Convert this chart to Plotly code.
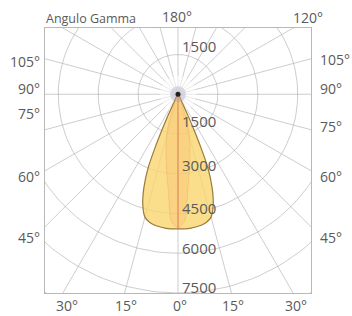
import numpy as np
import plotly.graph_objects as go

# ---- data ----
ring_values = [1500, 3000, 4500, 6000, 7500, 9000]
ring_labels = ["1500", "1500", "3000", "4500", "6000", "7500"]
grid_angles = list(range(0, 360, 15))
# outer (yellow) intensity curve, cd vs gamma angle (deg)
lobe_angles = [0, 5, 10, 12.5, 15, 17.5, 20, 22, 23, 24, 25, 26, 27]
lobe_values = [5080, 5080, 5020, 4950, 4800, 4400, 3750, 3000, 2330, 1580, 900, 380, 0]
# inner (orange) curve
inner_angles = [0, 3, 6, 9, 12, 15, 18, 20, 21]
inner_values = [5030, 4800, 3560, 2800, 2180, 1650, 1130, 560, 0]
left_labels = ["105°", "90°", "75°", "60°", "45°"]
right_labels = ["105°", "90°", "75°", "60°", "45°"]
bottom_labels = ["30°", "15°", "0°", "15°", "30°"]
top_labels = ["Angulo Gamma", "180°", "120°"]

W, H = 352, 316
L, R, T, B = 45, 311, 28, 293

def pol(r, a_deg):
    a = np.radians(np.asarray(a_deg, dtype=float))
    r = np.asarray(r, dtype=float)
    return r * np.sin(a), -r * np.cos(a)

def mirror(angles, values):
    a = [-x for x in angles[::-1]] + angles[1:]
    v = values[::-1] + values[1:]
    return a, v

fig = go.Figure()

grid_col = "rgba(175,175,175,0.62)"
# grid rings
th = np.arange(0, 361, 2)
for rv in ring_values:
    x, y = pol(np.full(th.shape, rv), th)
    fig.add_trace(go.Scatter(x=x, y=y, mode="lines",
                             line=dict(color=grid_col, width=1), hoverinfo="skip"))
# radial lines
for ga in grid_angles:
    x, y = pol([0, 12000], [ga, ga])
    fig.add_trace(go.Scatter(x=x, y=y, mode="lines",
                             line=dict(color=grid_col, width=1), hoverinfo="skip"))

# centre haze
fig.add_trace(go.Scatter(x=[0], y=[0], mode="markers",
                         marker=dict(color="rgba(255,255,255,0.55)", size=36), hoverinfo="skip"))

# lobes
a, v = mirror(lobe_angles, lobe_values)
x, y = pol(v, a)
fig.add_trace(go.Scatter(x=x, y=y, mode="lines", fill="toself",
                         fillcolor="rgba(250,214,110,0.8)",
                         line=dict(color="#9a7a3a", width=1.2, shape="spline", smoothing=0.6),
                         hoverinfo="skip"))
a, v = mirror(inner_angles, inner_values)
x, y = pol(v, a)
fig.add_trace(go.Scatter(x=x, y=y, mode="lines", fill="toself",
                         fillcolor="rgba(242,175,105,0.25)",
                         line=dict(color="rgba(230,150,90,0.35)", width=0.8, shape="spline", smoothing=0.6),
                         hoverinfo="skip"))
x, y = pol([0, lobe_values[0]], [0, 0])
fig.add_trace(go.Scatter(x=x, y=y, mode="lines",
                         line=dict(color="rgba(220,110,80,0.8)", width=1), hoverinfo="skip"))

# centre
fig.add_trace(go.Scatter(x=[0], y=[0], mode="markers",
                         marker=dict(color="rgba(160,150,190,0.3)", size=16), hoverinfo="skip"))
fig.add_trace(go.Scatter(x=[0], y=[0], mode="markers",
                         marker=dict(color="#222", size=5), hoverinfo="skip"))

def px2paper(px, py):
    return (px - L) / (R - L), (B - py) / (B - T)

ann = []
font = dict(family="Open Sans", size=14, color="#5a5a5a")
def add(text, px, py, xanchor="center", size=None):
    xp, yp = px2paper(px, py)
    f = dict(font)
    if size:
        f["size"] = size
    ann.append(dict(text=text, x=xp, y=yp, xref="paper", yref="paper",
                    xanchor=xanchor, yanchor="middle", showarrow=False, font=f))

for t, py in zip(left_labels, [62, 89, 113, 176, 237]):
    add(t, 42, py, "right")
for t, py in zip(right_labels, [60, 89, 126, 176, 237]):
    add(t, 318, py, "left")
for t, px in zip(bottom_labels, [67, 126, 180, 233, 296]):
    add(t, px, 305)
add(top_labels[0], 44, 18, "left", size=12.5)
add(top_labels[1], 177, 16)
add(top_labels[2], 308, 17)
for t, py in zip(ring_labels, [46, 121, 165, 208, 248, 287]):
    add(t, 199, py, size=15)

fig.update_layout(
    width=W, height=H,
    margin=dict(l=L, r=W - R, t=T, b=H - B),
    paper_bgcolor="white", plot_bgcolor="white",
    showlegend=False,
    xaxis=dict(range=[-5000, 5000], visible=True, showgrid=False, zeroline=False,
               showticklabels=False, ticks="", showline=True, mirror=True,
               linecolor="#b8b8b8", linewidth=1, fixedrange=True),
    yaxis=dict(range=[-7500, 2500], showgrid=False, zeroline=False,
               showticklabels=False, ticks="", showline=True, mirror=True,
               linecolor="#b8b8b8", linewidth=1, fixedrange=True),
    annotations=ann,
)
fig.write_html("out.html", config={"displayModeBar": False},
               post_script="document.body.style.margin='0';document.body.style.overflow='hidden';")
